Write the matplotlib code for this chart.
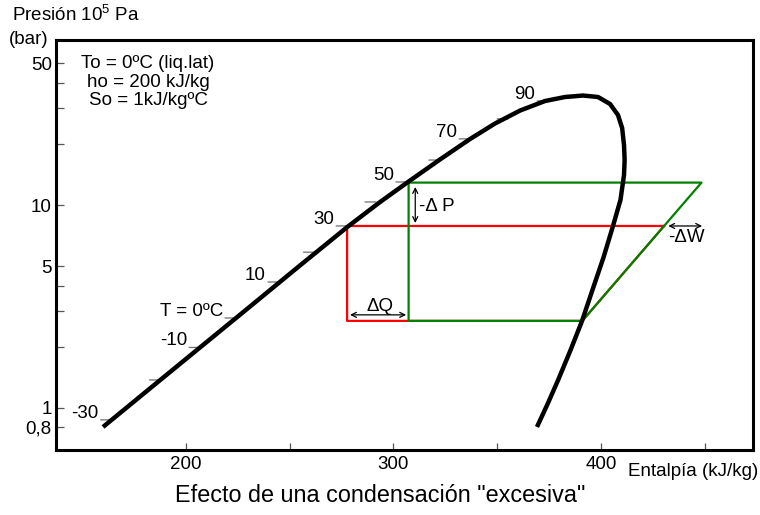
import numpy as np
import matplotlib
matplotlib.use('Agg')
import matplotlib.pyplot as plt

plt.rcParams['font.family'] = ['Liberation Sans', 'DejaVu Sans']
plt.rcParams['mathtext.fontset'] = 'custom'
plt.rcParams['mathtext.rm'] = 'Liberation Sans'
plt.rcParams['font.size'] = 13.5

# saturation dome (h in kJ/kg, p in bar)
liq_h = [160.2, 182.8, 206.9, 231.0, 255.0, 278.1, 293.6, 307.0, 322.4,
         336.9, 348.9, 361.0, 373.0, 382.6, 391.3]
liq_p = [0.803, 1.244, 1.982, 3.157, 5.03, 7.833, 10.35, 12.99, 16.77,
         21.17, 25.24, 29.26, 32.60, 34.11, 34.69]
vap_h = [391.3, 398.5, 404.3, 408.1, 410.1, 411.0, 411.3, 411.0, 409.3,
         405.7, 401.2, 396.3, 390.8, 385.3, 379.3, 374.0, 369.1]
vap_p = [34.69, 34.11, 31.50, 27.80, 23.99, 19.77, 16.67, 14.06, 10.59,
         7.88, 5.54, 3.94, 2.68, 1.927, 1.37, 1.031, 0.803]

# temperature marks on the liquid line
temps = [-30, -20, -10, 0, 10, 20, 30, 40, 50, 60, 70, 80, 90]
temp_h = [164.3, 187.8, 206.9, 224.2, 244.9, 262.0, 277.7, 291.6, 306.5,
          322.4, 336.9, 355.2, 374.5]
temp_p = [0.87, 1.37, 1.982, 2.77, 4.17, 5.85, 7.88, 10.35, 12.99,
          16.67, 21.2, 26.6, 32.6]
temp_lbl = {-30: '-30', -10: '-10', 0: 'T = 0ºC', 10: '10', 30: '30',
            50: '50', 70: '70', 90: '90'}

# cycles
red_h = [430.3, 277.7, 277.7, 390.9, 430.3]
red_p = [7.88, 7.88, 2.68, 2.68, 7.88]
green_h = [307.3, 448.3, 390.9, 307.3, 307.3]
green_p = [12.9, 12.9, 2.68, 2.68, 12.9]

yticks = [0.8, 1, 5, 10, 50]
ytick_lbl = ['0,8', '1', '5', '10', '50']
yminor = [2, 3, 4, 20, 30, 40]
xticks = [200, 300, 400]
xminor = [250, 350, 450]

fig = plt.figure(figsize=(7.6, 5.15), dpi=100)
ax = fig.add_axes([56/760, 1-450/515, 697/760, 410/515])
ax.set_yscale('log')
ax.set_xlim(137.55, 473.1)
ax.set_ylim(0.618, 65.2)

ax.plot(red_h, red_p, color='#ff0000', lw=1.6, zorder=2)
ax.plot(green_h, green_p, color='#008000', lw=1.6, zorder=3)
ax.plot(liq_h + vap_h[1:], liq_p + vap_p[1:], color='black', lw=3.2,
        solid_joinstyle='round', solid_capstyle='butt', zorder=4)

for t, h, p in zip(temps, temp_h, temp_p):
    ax.annotate('', xy=(h, p), xytext=(-11, 0), textcoords='offset pixels',
                arrowprops=dict(arrowstyle='-', color='#707070', lw=0.9,
                                shrinkA=0, shrinkB=0))
    if t in temp_lbl:
        ax.annotate(temp_lbl[t], xy=(h, p), xytext=(-13, 2),
                    textcoords='offset pixels', ha='right', va='baseline')

arr = dict(arrowstyle='<->', color='black', lw=0.9, shrinkA=0, shrinkB=0,
           mutation_scale=9)
ax.annotate('', xy=(306.1, 2.87), xytext=(279.1, 2.87), arrowprops=arr)
ax.text(293.5, 3.14, 'ΔQ', ha='center', va='center')
ax.annotate('', xy=(310.5, 12.27), xytext=(310.5, 8.15), arrowprops=arr)
ax.text(312.3, 9.8, '-Δ P', ha='left', va='center')
ax.annotate('', xy=(448.6, 7.88), xytext=(432.3, 7.88), arrowprops=arr, zorder=5)
ax.text(432.0, 6.88, '-ΔW', ha='left', va='center')

ax.text(0.132, 0.963, 'To = 0ºC (liq.lat)\nho = 200 kJ/kg\nSo = 1kJ/kgºC',
        transform=ax.transAxes, ha='center', va='top', multialignment='center',
        linespacing=1.12)

ax.set_yticks(yticks)
ax.set_yticklabels(ytick_lbl)
ax.set_yticks(yminor, minor=True)
ax.set_yticklabels([], minor=True)
ax.set_xticks(xticks)
ax.set_xticks(xminor, minor=True)
ax.tick_params(which='both', axis='y', direction='in', length=6, width=0.9,
               color='#555555', pad=3)
ax.tick_params(which='both', axis='x', direction='in', length=5, width=0.9,
               color='#555555', pad=4)
for s in ax.spines.values():
    s.set_linewidth(2.2)

fig.text(12/760, 1-15/515, 'Presión 10$^{5}$ Pa', ha='left', va='center')
fig.text(9/760, 1-40/515, '(bar)', ha='left', va='center')
fig.text(628/760, 1-472/515, 'Entalpía (kJ/kg)', ha='left', va='center')
fig.text(0.5, 1-495/515, 'Efecto de una condensación "excesiva"',
         ha='center', va='center', fontsize=16.8)

fig.savefig('out.png', dpi=100)
